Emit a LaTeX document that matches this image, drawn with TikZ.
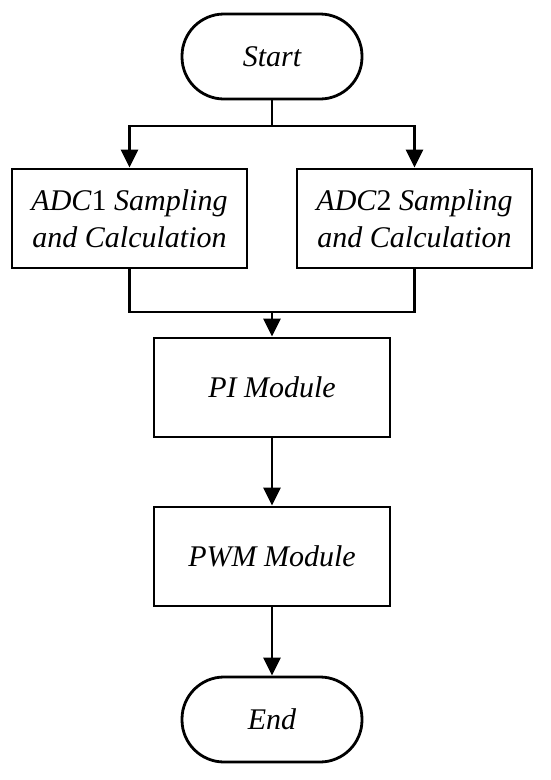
\documentclass[tikz,border=0pt]{standalone}
\usepackage{fontspec}
\setmainfont{Liberation Serif}[ItalicFont={Liberation Serif Italic}]
\usetikzlibrary{arrows.meta}
\begin{document}
\begin{tikzpicture}[x=1pt,y=-1pt,
  txt/.style={font=\fontsize{30}{37}\selectfont\itshape, align=center, inner sep=0pt},
  box/.style={txt, draw, line width=2.8pt, minimum width=235pt, minimum height=99pt},
  term/.style={txt, draw, line width=2.8pt, rounded corners=42pt, minimum width=180pt, minimum height=85pt},
  conn/.style={line width=2.8pt},
  arr/.style={conn, -{Triangle[length=18pt,width=17pt]}}]
\useasboundingbox (0,0) rectangle (550,780);
\node[term] (start) at (272,56.5) {Start};
\node[box] (adc1) at (129.5,218.5) {ADC\textup{1} Sampling\\and Calculation};
\node[box] (adc2) at (414.5,218.5) {ADC\textup{2} Sampling\\and Calculation};
\node[box, minimum width=236pt] (pi) at (272,387.5) {PI Module};
\node[box, minimum width=236pt] (pwm) at (272,556.5) {PWM Module};
\node[term] (end) at (272,719.5) {End};
\coordinate (sp) at (272,126);
\coordinate (mg) at (272,312);
\draw[conn] (start) -- (sp);
\draw[arr] (sp) -| (adc1);
\draw[arr] (sp) -| (adc2);
\draw[conn] (adc1) |- (mg) -| (adc2);
\draw[arr] (mg) -- (pi);
\draw[arr] (pi) -- (pwm);
\draw[arr] (pwm) -- (end);
\end{tikzpicture}
\end{document}
